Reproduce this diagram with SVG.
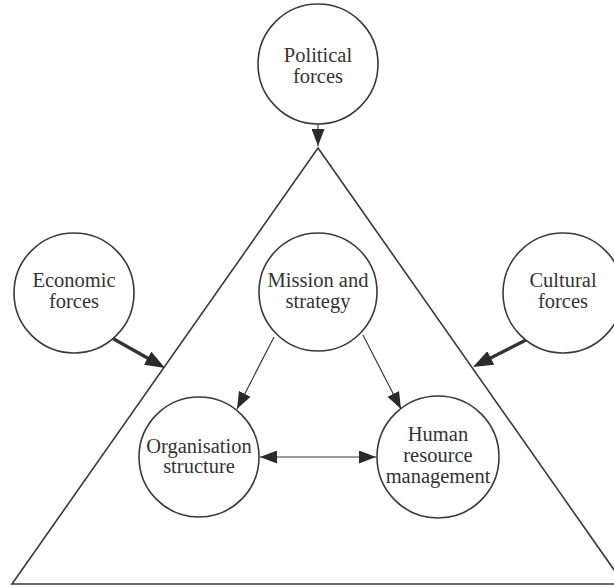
<svg xmlns="http://www.w3.org/2000/svg" width="614" height="587" viewBox="0 0 614 587">
  <style>
    .node circle { fill: #fff; stroke: #3a3a3a; stroke-width: 1.6; }
    .node text { font-size: 20.5px; fill: #333; text-anchor: middle; }
    .frame { fill: none; stroke: #3a3a3a; stroke-width: 1.6; }
    .thin { stroke: #3a3a3a; stroke-width: 1.2; fill: none; }
    .bold { stroke: #333; stroke-width: 3.2; fill: none; }
  </style>
  <defs>
    <marker id="headThin" viewBox="0 0 17 13" markerWidth="17" markerHeight="13" refX="17" refY="6.5" orient="auto-start-reverse" markerUnits="userSpaceOnUse">
      <path d="M0,0 L17,6.5 L0,13 z" fill="#2a2a2a"/>
    </marker>
    <marker id="headBold" viewBox="0 0 20 15" markerWidth="20" markerHeight="15" refX="14" refY="7.5" orient="auto" markerUnits="userSpaceOnUse">
      <path d="M0,0 L20,7.5 L0,15 z" fill="#2a2a2a"/>
    </marker>
  </defs>

  <rect width="614" height="587" fill="#fff"/>

  <!-- organisation boundary -->
  <polygon class="frame" points="318,148 12,584 624,584"/>

  <g id="connectors">
    <line class="thin" x1="318" y1="124" x2="318" y2="146" stroke-width="1.8" marker-end="url(#headThin)"/>
    <line class="bold" x1="112" y1="338" x2="159.8" y2="365" marker-end="url(#headBold)"/>
    <line class="bold" x1="526" y1="340" x2="478.3" y2="364.3" marker-end="url(#headBold)"/>
    <line class="thin" x1="274" y1="337" x2="237" y2="409" marker-end="url(#headThin)"/>
    <line class="thin" x1="363" y1="335" x2="401" y2="409" marker-end="url(#headThin)"/>
    <line class="thin" x1="260" y1="457" x2="376" y2="457" marker-start="url(#headThin)" marker-end="url(#headThin)"/>
  </g>

  <g font-family="'Liberation Serif', 'DejaVu Serif', 'Times New Roman', serif">
    <g id="political" class="node">
      <circle cx="318" cy="64" r="60"/>
      <text x="318" y="62">Political</text>
      <text x="318" y="83">forces</text>
    </g>

    <g id="economic" class="node">
      <circle cx="74" cy="293" r="60"/>
      <text x="74" y="287">Economic</text>
      <text x="74" y="308">forces</text>
    </g>

    <g id="cultural" class="node">
      <circle cx="563" cy="293" r="60"/>
      <text x="563" y="287">Cultural</text>
      <text x="563" y="308">forces</text>
    </g>

    <g id="mission" class="node">
      <circle cx="318" cy="292" r="59"/>
      <text x="318" y="287">Mission and</text>
      <text x="318" y="308">strategy</text>
    </g>

    <g id="organisation" class="node">
      <circle cx="199" cy="457" r="60"/>
      <text x="199" y="453">Organisation</text>
      <text x="199" y="473">structure</text>
    </g>

    <g id="hrm" class="node">
      <circle cx="438" cy="457" r="61"/>
      <text x="438" y="441">Human</text>
      <text x="438" y="462">resource</text>
      <text x="438" y="483">management</text>
    </g>
  </g>
</svg>
